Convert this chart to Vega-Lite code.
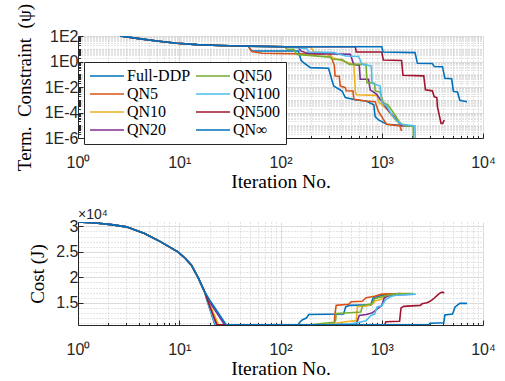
{
"$schema": "https://vega.github.io/schema/vega-lite/v6.json",
"background": "white",
"padding": {"left": 15, "top": 3, "right": 0, "bottom": 0},
"spacing": 84,
"bounds": "flush",
"resolve": {"scale": {"color": "independent"}},
"config": {
  "view": {"stroke": null},
  "axis": {"domainColor": "#262626", "tickColor": "#262626", "labelColor": "#262626", "labelFont": "Liberation Sans", "labelFontSize": 16, "titleFont": "Liberation Serif", "titleFontSize": 19, "titleFontWeight": "normal", "titleColor": "black", "labelOverlap": false, "labelBound": false, "labelFlush": false, "gridWidth": 1}
},
"datasets": {
"psi": [
{"s":"Full-DDP","x":2.6,"y":100},{"s":"Full-DDP","x":4,"y":62},{"s":"Full-DDP","x":6,"y":40},{"s":"Full-DDP","x":9.5,"y":27},{"s":"Full-DDP","x":15,"y":21},{"s":"Full-DDP","x":25,"y":18},{"s":"Full-DDP","x":40,"y":16.5},{"s":"Full-DDP","x":48,"y":16},
{"s":"Full-DDP","x":52,"y":6.6},{"s":"Full-DDP","x":150,"y":6.6},{"s":"Full-DDP","x":160,"y":1.2},{"s":"Full-DDP","x":169,"y":0.81},{"s":"Full-DDP","x":197,"y":0.33},{"s":"Full-DDP","x":298,"y":0.3},{"s":"Full-DDP","x":310,"y":0.1},{"s":"Full-DDP","x":335,"y":0.012},{"s":"Full-DDP","x":405,"y":0.0049},{"s":"Full-DDP","x":437,"y":0.0015},{"s":"Full-DDP","x":560,"y":0.00095},{"s":"Full-DDP","x":700,"y":0.0008},{"s":"Full-DDP","x":835,"y":0.0004},{"s":"Full-DDP","x":860,"y":0.000047},{"s":"Full-DDP","x":930,"y":0.000026},{"s":"Full-DDP","x":1118,"y":0.000012},{"s":"Full-DDP","x":1510,"y":0.00001},
{"s":"QN5","x":2.6,"y":100},{"s":"QN5","x":4,"y":62},{"s":"QN5","x":6,"y":40},{"s":"QN5","x":9.5,"y":27},{"s":"QN5","x":15,"y":21},{"s":"QN5","x":25,"y":18},{"s":"QN5","x":40,"y":16.5},{"s":"QN5","x":48,"y":16},
{"s":"QN5","x":52,"y":6},{"s":"QN5","x":66,"y":4.4},{"s":"QN5","x":310,"y":3.6},{"s":"QN5","x":340,"y":0.5},{"s":"QN5","x":346,"y":0.073},{"s":"QN5","x":380,"y":0.07},{"s":"QN5","x":389,"y":0.012},{"s":"QN5","x":437,"y":0.0089},{"s":"QN5","x":445,"y":0.005},{"s":"QN5","x":520,"y":0.0048},{"s":"QN5","x":530,"y":0.0011},{"s":"QN5","x":688,"y":0.0008},{"s":"QN5","x":860,"y":0.0007},{"s":"QN5","x":926,"y":0.00013},{"s":"QN5","x":1037,"y":0.000029},{"s":"QN5","x":1118,"y":0.000012},{"s":"QN5","x":1510,"y":0.000009},{"s":"QN5","x":1570,"y":0.0000035},
{"s":"QN10","x":2.6,"y":100},{"s":"QN10","x":4,"y":62},{"s":"QN10","x":6,"y":40},{"s":"QN10","x":9.5,"y":27},{"s":"QN10","x":15,"y":21},{"s":"QN10","x":25,"y":18},{"s":"QN10","x":40,"y":16.5},{"s":"QN10","x":48,"y":16},
{"s":"QN10","x":110,"y":14.4},{"s":"QN10","x":197,"y":14.4},{"s":"QN10","x":215,"y":5.5},{"s":"QN10","x":265,"y":5},{"s":"QN10","x":330,"y":2},{"s":"QN10","x":470,"y":0.8},{"s":"QN10","x":530,"y":0.55},{"s":"QN10","x":548,"y":0.005},{"s":"QN10","x":560,"y":0.0025},{"s":"QN10","x":893,"y":0.0022},{"s":"QN10","x":930,"y":0.0007},{"s":"QN10","x":1037,"y":0.00032},{"s":"QN10","x":1160,"y":0.00013},{"s":"QN10","x":1400,"y":0.00002},{"s":"QN10","x":1600,"y":0.00001},{"s":"QN10","x":1900,"y":0.0000087},
{"s":"QN20","x":2.6,"y":100},{"s":"QN20","x":4,"y":62},{"s":"QN20","x":6,"y":40},{"s":"QN20","x":9.5,"y":27},{"s":"QN20","x":15,"y":21},{"s":"QN20","x":25,"y":18},{"s":"QN20","x":40,"y":16.5},{"s":"QN20","x":48,"y":16},
{"s":"QN20","x":110,"y":14.4},{"s":"QN20","x":150,"y":14.4},{"s":"QN20","x":157,"y":7},{"s":"QN20","x":182,"y":4.5},{"s":"QN20","x":490,"y":3.6},{"s":"QN20","x":528,"y":0.6},{"s":"QN20","x":600,"y":0.5},{"s":"QN20","x":613,"y":0.04},{"s":"QN20","x":741,"y":0.04},{"s":"QN20","x":769,"y":0.006},{"s":"QN20","x":893,"y":0.0027},{"s":"QN20","x":962,"y":0.0011},{"s":"QN20","x":1077,"y":0.00032},{"s":"QN20","x":1205,"y":0.0001},{"s":"QN20","x":1400,"y":0.00003},{"s":"QN20","x":1570,"y":0.0000087},{"s":"QN20","x":1990,"y":0.0000087},
{"s":"QN50","x":2.6,"y":100},{"s":"QN50","x":4,"y":62},{"s":"QN50","x":6,"y":40},{"s":"QN50","x":9.5,"y":27},{"s":"QN50","x":15,"y":21},{"s":"QN50","x":25,"y":18},{"s":"QN50","x":40,"y":16.5},{"s":"QN50","x":48,"y":16},
{"s":"QN50","x":110,"y":14.4},{"s":"QN50","x":116,"y":9.1},{"s":"QN50","x":135,"y":9},{"s":"QN50","x":145,"y":3.6},{"s":"QN50","x":310,"y":2.2},{"s":"QN50","x":320,"y":1.5},{"s":"QN50","x":405,"y":1.4},{"s":"QN50","x":480,"y":0.6},{"s":"QN50","x":700,"y":0.6},{"s":"QN50","x":714,"y":0.022},{"s":"QN50","x":850,"y":0.02},{"s":"QN50","x":860,"y":0.0049},{"s":"QN50","x":960,"y":0.004},{"s":"QN50","x":1037,"y":0.00059},{"s":"QN50","x":1150,"y":0.0004},{"s":"QN50","x":1300,"y":0.0001},{"s":"QN50","x":1510,"y":0.000016},{"s":"QN50","x":1690,"y":0.0000087},{"s":"QN50","x":2050,"y":0.0000087},{"s":"QN50","x":2060,"y":0.00000001},
{"s":"QN100","x":2.6,"y":100},{"s":"QN100","x":4,"y":62},{"s":"QN100","x":6,"y":40},{"s":"QN100","x":9.5,"y":27},{"s":"QN100","x":15,"y":21},{"s":"QN100","x":25,"y":18},{"s":"QN100","x":40,"y":16.5},{"s":"QN100","x":48,"y":16},
{"s":"QN100","x":110,"y":14.4},{"s":"QN100","x":182,"y":10},{"s":"QN100","x":190,"y":5.5},{"s":"QN100","x":335,"y":5},{"s":"QN100","x":440,"y":2.7},{"s":"QN100","x":591,"y":2.5},{"s":"QN100","x":640,"y":0.6},{"s":"QN100","x":790,"y":0.45},{"s":"QN100","x":800,"y":0.02},{"s":"QN100","x":962,"y":0.012},{"s":"QN100","x":1000,"y":0.00059},{"s":"QN100","x":1118,"y":0.00032},{"s":"QN100","x":1250,"y":0.00007},{"s":"QN100","x":1400,"y":0.000023},{"s":"QN100","x":1570,"y":0.000012},{"s":"QN100","x":2130,"y":0.0000087},{"s":"QN100","x":2170,"y":0.00000001},
{"s":"QN500","x":2.6,"y":100},{"s":"QN500","x":4,"y":62},{"s":"QN500","x":6,"y":40},{"s":"QN500","x":9.5,"y":27},{"s":"QN500","x":15,"y":21},{"s":"QN500","x":25,"y":18},{"s":"QN500","x":40,"y":16.5},{"s":"QN500","x":48,"y":16},
{"s":"QN500","x":110,"y":14.4},{"s":"QN500","x":548,"y":14.4},{"s":"QN500","x":560,"y":5.6},{"s":"QN500","x":1000,"y":5.5},{"s":"QN500","x":1037,"y":1.3},{"s":"QN500","x":1570,"y":1.2},{"s":"QN500","x":1620,"y":0.083},{"s":"QN500","x":2600,"y":0.075},{"s":"QN500","x":2700,"y":0.006},{"s":"QN500","x":3160,"y":0.005},{"s":"QN500","x":3300,"y":0.0017},{"s":"QN500","x":3500,"y":0.0015},{"s":"QN500","x":3550,"y":0.00028},{"s":"QN500","x":3700,"y":0.000063},{"s":"QN500","x":3850,"y":0.000014},{"s":"QN500","x":4000,"y":0.000014},{"s":"QN500","x":4140,"y":0.000026},
{"s":"QN∞","x":2.6,"y":100},{"s":"QN∞","x":4,"y":62},{"s":"QN∞","x":6,"y":40},{"s":"QN∞","x":9.5,"y":27},{"s":"QN∞","x":15,"y":21},{"s":"QN∞","x":25,"y":18},{"s":"QN∞","x":40,"y":16.5},{"s":"QN∞","x":48,"y":16},
{"s":"QN∞","x":110,"y":14.4},{"s":"QN∞","x":1000,"y":14.4},{"s":"QN∞","x":1030,"y":5.6},{"s":"QN∞","x":2130,"y":5},{"s":"QN∞","x":2250,"y":0.72},{"s":"QN∞","x":3160,"y":0.7},{"s":"QN∞","x":3300,"y":0.4},{"s":"QN∞","x":3980,"y":0.39},{"s":"QN∞","x":4200,"y":0.048},{"s":"QN∞","x":4900,"y":0.045},{"s":"QN∞","x":5100,"y":0.0045},{"s":"QN∞","x":5600,"y":0.004},{"s":"QN∞","x":5900,"y":0.0009},{"s":"QN∞","x":6950,"y":0.0007}
],
"cost": [
{"s":"Full-DDP","x":1,"y":30840},{"s":"Full-DDP","x":1.5,"y":30650},{"s":"Full-DDP","x":2.13,"y":30330},{"s":"Full-DDP","x":3,"y":29900},{"s":"Full-DDP","x":4.55,"y":28575},{"s":"Full-DDP","x":6.5,"y":27000},{"s":"Full-DDP","x":9.7,"y":24980},{"s":"Full-DDP","x":11.5,"y":23700},{"s":"Full-DDP","x":13.2,"y":22380},{"s":"Full-DDP","x":15.5,"y":19800},{"s":"Full-DDP","x":17.8,"y":17170},
{"s":"Full-DDP","x":19.2,"y":14900},{"s":"Full-DDP","x":22.5,"y":10700},{"s":"Full-DDP","x":150,"y":10700},{"s":"Full-DDP","x":155,"y":11200},{"s":"Full-DDP","x":165,"y":11700},{"s":"Full-DDP","x":180,"y":12000},{"s":"Full-DDP","x":190,"y":12700},{"s":"Full-DDP","x":420,"y":12800},{"s":"Full-DDP","x":440,"y":14200},{"s":"Full-DDP","x":480,"y":14500},{"s":"Full-DDP","x":780,"y":14600},{"s":"Full-DDP","x":820,"y":15900},{"s":"Full-DDP","x":900,"y":16200},{"s":"Full-DDP","x":1000,"y":16500},{"s":"Full-DDP","x":1510,"y":16800},
{"s":"QN5","x":1,"y":30840},{"s":"QN5","x":1.5,"y":30650},{"s":"QN5","x":2.13,"y":30330},{"s":"QN5","x":3,"y":29900},{"s":"QN5","x":4.55,"y":28575},{"s":"QN5","x":6.5,"y":27000},{"s":"QN5","x":9.7,"y":24980},{"s":"QN5","x":11.5,"y":23700},{"s":"QN5","x":13.2,"y":22380},{"s":"QN5","x":15.5,"y":19800},{"s":"QN5","x":17.8,"y":17170},
{"s":"QN5","x":19.6,"y":14900},{"s":"QN5","x":24,"y":10700},{"s":"QN5","x":330,"y":10700},{"s":"QN5","x":340,"y":11200},{"s":"QN5","x":346,"y":13000},{"s":"QN5","x":355,"y":14500},{"s":"QN5","x":470,"y":14700},{"s":"QN5","x":500,"y":15200},{"s":"QN5","x":640,"y":15300},{"s":"QN5","x":700,"y":16000},{"s":"QN5","x":850,"y":16300},{"s":"QN5","x":1000,"y":16700},{"s":"QN5","x":1570,"y":16800},
{"s":"QN10","x":1,"y":30840},{"s":"QN10","x":1.5,"y":30650},{"s":"QN10","x":2.13,"y":30330},{"s":"QN10","x":3,"y":29900},{"s":"QN10","x":4.55,"y":28575},{"s":"QN10","x":6.5,"y":27000},{"s":"QN10","x":9.7,"y":24980},{"s":"QN10","x":11.5,"y":23700},{"s":"QN10","x":13.2,"y":22380},{"s":"QN10","x":15.5,"y":19800},{"s":"QN10","x":17.8,"y":17170},
{"s":"QN10","x":19.8,"y":14900},{"s":"QN10","x":24.5,"y":10700},{"s":"QN10","x":250,"y":10700},{"s":"QN10","x":300,"y":10800},{"s":"QN10","x":350,"y":11000},{"s":"QN10","x":440,"y":11300},{"s":"QN10","x":560,"y":11500},{"s":"QN10","x":575,"y":14300},{"s":"QN10","x":700,"y":14400},{"s":"QN10","x":820,"y":14800},{"s":"QN10","x":860,"y":15400},{"s":"QN10","x":960,"y":15600},{"s":"QN10","x":1100,"y":16300},{"s":"QN10","x":1300,"y":16500},{"s":"QN10","x":1500,"y":16800},{"s":"QN10","x":1900,"y":16800},
{"s":"QN20","x":1,"y":30840},{"s":"QN20","x":1.5,"y":30650},{"s":"QN20","x":2.13,"y":30330},{"s":"QN20","x":3,"y":29900},{"s":"QN20","x":4.55,"y":28575},{"s":"QN20","x":6.5,"y":27000},{"s":"QN20","x":9.7,"y":24980},{"s":"QN20","x":11.5,"y":23700},{"s":"QN20","x":13.2,"y":22380},{"s":"QN20","x":15.5,"y":19800},{"s":"QN20","x":17.8,"y":17170},
{"s":"QN20","x":20.2,"y":15000},{"s":"QN20","x":28,"y":10700},{"s":"QN20","x":300,"y":10700},{"s":"QN20","x":560,"y":10800},{"s":"QN20","x":600,"y":12500},{"s":"QN20","x":700,"y":12700},{"s":"QN20","x":800,"y":13000},{"s":"QN20","x":960,"y":14200},{"s":"QN20","x":1000,"y":14500},{"s":"QN20","x":1060,"y":16000},{"s":"QN20","x":1200,"y":16500},{"s":"QN20","x":1990,"y":16700},
{"s":"QN50","x":1,"y":30840},{"s":"QN50","x":1.5,"y":30650},{"s":"QN50","x":2.13,"y":30330},{"s":"QN50","x":3,"y":29900},{"s":"QN50","x":4.55,"y":28575},{"s":"QN50","x":6.5,"y":27000},{"s":"QN50","x":9.7,"y":24980},{"s":"QN50","x":11.5,"y":23700},{"s":"QN50","x":13.2,"y":22380},{"s":"QN50","x":15.5,"y":19800},{"s":"QN50","x":17.8,"y":17170},
{"s":"QN50","x":19.4,"y":14900},{"s":"QN50","x":23,"y":10700},{"s":"QN50","x":200,"y":10700},{"s":"QN50","x":240,"y":10900},{"s":"QN50","x":340,"y":11200},{"s":"QN50","x":350,"y":11500},{"s":"QN50","x":355,"y":12900},{"s":"QN50","x":440,"y":13000},{"s":"QN50","x":620,"y":13200},{"s":"QN50","x":650,"y":14500},{"s":"QN50","x":800,"y":14800},{"s":"QN50","x":850,"y":15800},{"s":"QN50","x":1000,"y":16200},{"s":"QN50","x":1300,"y":16700},{"s":"QN50","x":2050,"y":16800},
{"s":"QN100","x":1,"y":30840},{"s":"QN100","x":1.5,"y":30650},{"s":"QN100","x":2.13,"y":30330},{"s":"QN100","x":3,"y":29900},{"s":"QN100","x":4.55,"y":28575},{"s":"QN100","x":6.5,"y":27000},{"s":"QN100","x":9.7,"y":24980},{"s":"QN100","x":11.5,"y":23700},{"s":"QN100","x":13.2,"y":22380},{"s":"QN100","x":15.5,"y":19800},{"s":"QN100","x":17.8,"y":17170},
{"s":"QN100","x":19.3,"y":14900},{"s":"QN100","x":22.8,"y":10700},{"s":"QN100","x":300,"y":10700},{"s":"QN100","x":500,"y":10900},{"s":"QN100","x":600,"y":11200},{"s":"QN100","x":700,"y":11500},{"s":"QN100","x":780,"y":12500},{"s":"QN100","x":850,"y":12800},{"s":"QN100","x":900,"y":14200},{"s":"QN100","x":1000,"y":14400},{"s":"QN100","x":1100,"y":15700},{"s":"QN100","x":1250,"y":16300},{"s":"QN100","x":1400,"y":16500},{"s":"QN100","x":2170,"y":16700},
{"s":"QN500","x":1,"y":30840},{"s":"QN500","x":1.5,"y":30650},{"s":"QN500","x":2.13,"y":30330},{"s":"QN500","x":3,"y":29900},{"s":"QN500","x":4.55,"y":28575},{"s":"QN500","x":6.5,"y":27000},{"s":"QN500","x":9.7,"y":24980},{"s":"QN500","x":11.5,"y":23700},{"s":"QN500","x":13.2,"y":22380},{"s":"QN500","x":15.5,"y":19800},{"s":"QN500","x":17.8,"y":17170},
{"s":"QN500","x":19.5,"y":14900},{"s":"QN500","x":23.5,"y":10700},{"s":"QN500","x":1070,"y":10700},{"s":"QN500","x":1100,"y":11300},{"s":"QN500","x":1500,"y":11400},{"s":"QN500","x":1550,"y":14000},{"s":"QN500","x":1650,"y":14300},{"s":"QN500","x":2400,"y":14500},{"s":"QN500","x":2500,"y":14800},{"s":"QN500","x":2800,"y":15000},{"s":"QN500","x":3000,"y":15300},{"s":"QN500","x":3250,"y":15800},{"s":"QN500","x":3550,"y":16500},{"s":"QN500","x":3800,"y":17000},{"s":"QN500","x":4000,"y":17100},{"s":"QN500","x":4140,"y":16900},
{"s":"QN∞","x":1,"y":30840},{"s":"QN∞","x":1.5,"y":30650},{"s":"QN∞","x":2.13,"y":30330},{"s":"QN∞","x":3,"y":29900},{"s":"QN∞","x":4.55,"y":28575},{"s":"QN∞","x":6.5,"y":27000},{"s":"QN∞","x":9.7,"y":24980},{"s":"QN∞","x":11.5,"y":23700},{"s":"QN∞","x":13.2,"y":22380},{"s":"QN∞","x":15.5,"y":19800},{"s":"QN∞","x":17.8,"y":17170},
{"s":"QN∞","x":20.5,"y":15200},{"s":"QN∞","x":29,"y":10700},{"s":"QN∞","x":2900,"y":10700},{"s":"QN∞","x":3000,"y":11000},{"s":"QN∞","x":4100,"y":11100},{"s":"QN∞","x":4200,"y":12600},{"s":"QN∞","x":5000,"y":12800},{"s":"QN∞","x":5300,"y":14200},{"s":"QN∞","x":5900,"y":14900},{"s":"QN∞","x":6950,"y":14900}
]
},
"vconcat": [
{
  "width": 405, "height": 102,
  "data": {"name": "psi"},
  "mark": {"type": "line", "strokeWidth": 1.6, "clip": true},
  "encoding": {
    "x": {"field": "x", "type": "quantitative", "scale": {"type": "log", "domain": [1, 10000]},
      "axis": {"title": "Iteration No.", "titleFontSize": 19.5, "titlePadding": 0, "labelPadding": 21,
        "values": [1,2,3,4,5,6,7,8,9,10,20,30,40,50,60,70,80,90,100,200,300,400,500,600,700,800,900,1000,2000,3000,4000,5000,6000,7000,8000,9000,10000],
        "labelExpr": "datum.value==1?'10⁰':datum.value==10?'10¹':datum.value==100?'10²':datum.value==1000?'10³':datum.value==10000?'10⁴':''",
        "tickSize": {"condition": {"test": "indexof([1,10,100,1000,10000],datum.value)>=0", "value": -5}, "value": -2.5},
        "gridColor": {"condition": {"test": "indexof([1,10,100,1000,10000],datum.value)>=0", "value": "#dcdcdc"}, "value": "#c8c8c8"},
        "gridDash": {"condition": {"test": "indexof([1,10,100,1000,10000],datum.value)>=0", "value": []}, "value": [1, 2]}}},
    "y": {"field": "y", "type": "quantitative", "scale": {"type": "log", "domain": [0.000001, 100]},
      "axis": {"title": "Term.\u00a0 Constraint\u00a0 (ψ)", "titlePadding": 10, "labelPadding": 5,
        "values": [0.000001,0.000002,0.000003,0.000004,0.000005,0.000006,0.000007,0.000008,0.000009,0.00001,0.00002,0.00003,0.00004,0.00005,0.00006,0.00007,0.00008,0.00009,0.0001,0.0002,0.0003,0.0004,0.0005,0.0006,0.0007,0.0008,0.0009,0.001,0.002,0.003,0.004,0.005,0.006,0.007,0.008,0.009,0.01,0.02,0.03,0.04,0.05,0.06,0.07,0.08,0.09,0.1,0.2,0.3,0.4,0.5,0.6,0.7,0.8,0.9,1,2,3,4,5,6,7,8,9,10,20,30,40,50,60,70,80,90,100],
        "labelExpr": "indexof([0.000001,0.0001,0.01,1,100],datum.value)>=0 ? '1E' + round(log(datum.value)/LN10) : ''",
        "tickSize": {"condition": {"test": "indexof([0.000001,0.0001,0.01,1,100],datum.value)>=0", "value": -5}, "value": -2.5},
        "gridColor": {"condition": {"test": "indexof([0.000001,0.0001,0.01,1,100],datum.value)>=0", "value": "#dcdcdc"}, "value": "#c8c8c8"},
        "gridDash": {"condition": {"test": "indexof([0.000001,0.0001,0.01,1,100],datum.value)>=0", "value": []}, "value": [1, 2]}}},
    "color": {"field": "s", "type": "nominal",
      "scale": {"domain": ["Full-DDP","QN5","QN10","QN20","QN50","QN100","QN500","QN∞"], "range": ["#0072BD","#D95319","#EDB120","#7E2F8E","#77AC30","#4DBEEE","#A2142F","#0072BD"]},
      "legend": {"title": null, "orient": "none", "legendX": 6, "legendY": 26, "columns": 2, "symbolType": "stroke", "symbolSize": 1156, "symbolStrokeWidth": 1.6, "labelFont": "Liberation Serif", "labelFontSize": 16, "labelColor": "black", "labelOffset": 2, "columnPadding": 4, "rowPadding": 0, "clipHeight": 18, "padding": 5, "strokeColor": "#262626", "fillColor": "white", "labelLimit": 0}}
  }
},
{
  "width": 405, "height": 103,
  "title": {"text": "×10⁴", "anchor": "start", "frame": "group", "fontSize": 14, "font": "Liberation Sans", "fontWeight": "normal", "color": "#262626", "offset": -4},
  "data": {"name": "cost"},
  "mark": {"type": "line", "strokeWidth": 1.6, "clip": true},
  "encoding": {
    "x": {"field": "x", "type": "quantitative", "scale": {"type": "log", "domain": [1, 10000]},
      "axis": {"title": "Iteration No.", "titleFontSize": 19.5, "titlePadding": 0, "labelPadding": 21,
        "values": [1,2,3,4,5,6,7,8,9,10,20,30,40,50,60,70,80,90,100,200,300,400,500,600,700,800,900,1000,2000,3000,4000,5000,6000,7000,8000,9000,10000],
        "labelExpr": "datum.value==1?'10⁰':datum.value==10?'10¹':datum.value==100?'10²':datum.value==1000?'10³':datum.value==10000?'10⁴':''",
        "tickSize": {"condition": {"test": "indexof([1,10,100,1000,10000],datum.value)>=0", "value": -5}, "value": -2.5},
        "gridColor": {"condition": {"test": "indexof([1,10,100,1000,10000],datum.value)>=0", "value": "#dcdcdc"}, "value": "#c8c8c8"},
        "gridDash": {"condition": {"test": "indexof([1,10,100,1000,10000],datum.value)>=0", "value": []}, "value": [1, 2]}}},
    "y": {"field": "y", "type": "quantitative", "scale": {"domain": [10650, 30850], "nice": false, "zero": false},
      "axis": {"title": "Cost (J)", "titlePadding": 8, "labelPadding": 5,
        "values": [11000,12000,13000,14000,15000,16000,17000,18000,19000,20000,21000,22000,23000,24000,25000,26000,27000,28000,29000,30000],
        "labelExpr": "indexof([15000,20000,25000,30000],datum.value)>=0 ? '' + (datum.value/10000) : ''",
        "tickSize": {"condition": {"test": "indexof([15000,20000,25000,30000],datum.value)>=0", "value": -5}, "value": 0},
        "gridColor": {"condition": {"test": "indexof([15000,20000,25000,30000],datum.value)>=0", "value": "#dcdcdc"}, "value": "#c8c8c8"},
        "gridDash": {"condition": {"test": "indexof([15000,20000,25000,30000],datum.value)>=0", "value": []}, "value": [1, 2]}}},
    "color": {"field": "s", "type": "nominal",
      "scale": {"domain": ["Full-DDP","QN5","QN10","QN20","QN50","QN100","QN500","QN∞"], "range": ["#0072BD","#D95319","#EDB120","#7E2F8E","#77AC30","#4DBEEE","#A2142F","#0072BD"]},
      "legend": null}
  }
}
]
}
